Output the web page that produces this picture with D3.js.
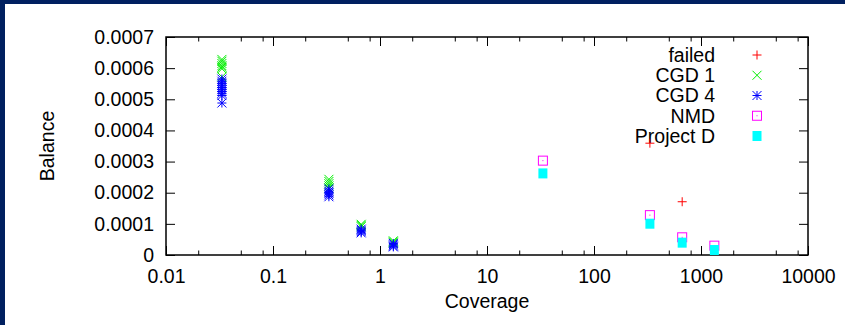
<!DOCTYPE html>
<html><head><meta charset="utf-8">
<script src="https://cdn.jsdelivr.net/npm/d3@7"></script>
<style>
html,body{margin:0;padding:0;background:#fff;}
svg{display:block;}
text{font-family:"Liberation Sans",Arial,Helvetica,sans-serif;fill:#000;}
</style></head>
<body>
<script>
// ---- data ----
const xTickValues = [0.01, 0.1, 1, 10, 100, 1000, 10000];
const xTickLabels = ["0.01", "0.1", "1", "10", "100", "1000", "10000"];
const yTickValues = [0, 0.0001, 0.0002, 0.0003, 0.0004, 0.0005, 0.0006, 0.0007];
const yTickLabels = ["0", "0.0001", "0.0002", "0.0003", "0.0004", "0.0005", "0.0006", "0.0007"];
const seriesNames = ["failed", "CGD 1", "CGD 4", "NMD", "Project D"];

const failedX = [333, 667];
const failedY = [0.000359, 0.000171];

const cgd1X = [0.0333, 0.0333, 0.0333, 0.0333, 0.0333, 0.0333, 0.0333,
               0.333, 0.333, 0.333, 0.333, 0.333,
               0.667, 0.667, 0.667,
               1.333, 1.333, 1.333];
const cgd1Y = [0.000628, 0.000622, 0.000615, 0.000608, 0.000603, 0.000598, 0.000572,
               0.000243, 0.000236, 0.000229, 0.000222, 0.000215,
               0.0000985, 0.000095, 0.000091,
               0.0000455, 0.000042, 0.000039];

const cgd4X = [0.0333, 0.0333, 0.0333, 0.0333, 0.0333, 0.0333, 0.0333, 0.0333, 0.0333, 0.0333,
               0.333, 0.333, 0.333, 0.333, 0.333,
               0.667, 0.667, 0.667, 0.667,
               1.333, 1.333, 1.333, 1.333];
const cgd4Y = [0.000565, 0.000558, 0.000551, 0.000545, 0.000538, 0.000531, 0.000525, 0.000519, 0.000512, 0.000488,
               0.000212, 0.000205, 0.000199, 0.000193, 0.000187,
               0.000083, 0.000079, 0.000075, 0.000071,
               0.000037, 0.000033, 0.000029, 0.000026];

const nmdX = [33.3, 333, 667, 1333];
const nmdY = [0.000303, 0.000128, 0.0000568, 0.000030];

const projDX = [33.3, 333, 667, 1333];
const projDY = [0.000262, 0.0001005, 0.0000396, 0.000016];

// ---- layout ----
const W = 845, H = 325;
const L = 166, R = 808, T = 37, B = 255;
const FS = 19.5;

const svg = d3.select("body").append("svg").attr("width", W).attr("height", H);
svg.append("rect").attr("width", W).attr("height", H).attr("fill", "#002060");
svg.append("rect").attr("x", 5).attr("y", 4).attr("width", W - 5).attr("height", H - 4).attr("fill", "#fff");

const x = d3.scaleLog().domain([0.01, 10000]).range([L, R]);
const y = d3.scaleLinear().domain([0, 0.0007]).range([B, T]);

const minorX = [];
for (let e = -2; e < 4; e++) [2, 5, 8].forEach(m => minorX.push(m * Math.pow(10, e)));

function styleAxis(g) {
  g.select(".domain").remove();
  g.selectAll(".tick line").attr("stroke", "#000").attr("stroke-width", 1);
  g.selectAll("text").attr("font-size", FS).attr("fill", "#000");
}

// bottom major with labels
svg.append("g").attr("transform", `translate(0,${B})`)
  .call(d3.axisBottom(x).tickValues(xTickValues).tickSize(-9).tickPadding(14.5)
    .tickFormat((d, i) => xTickLabels[i]))
  .call(styleAxis);
// bottom minor
svg.append("g").attr("transform", `translate(0,${B})`)
  .call(d3.axisBottom(x).tickValues(minorX).tickSize(-4.5).tickFormat(""))
  .call(styleAxis);
// top major / minor
svg.append("g").attr("transform", `translate(0,${T})`)
  .call(d3.axisTop(x).tickValues(xTickValues).tickSize(-9).tickFormat(""))
  .call(styleAxis);
svg.append("g").attr("transform", `translate(0,${T})`)
  .call(d3.axisTop(x).tickValues(minorX).tickSize(-4.5).tickFormat(""))
  .call(styleAxis);
// left
svg.append("g").attr("transform", `translate(${L},0)`)
  .call(d3.axisLeft(y).tickValues(yTickValues).tickSize(-9).tickPadding(12)
    .tickFormat((d, i) => yTickLabels[i]))
  .call(styleAxis);
// right
svg.append("g").attr("transform", `translate(${R},0)`)
  .call(d3.axisRight(y).tickValues(yTickValues).tickSize(-9).tickFormat(""))
  .call(styleAxis);

// frame
svg.append("rect").attr("x", L).attr("y", T).attr("width", R - L).attr("height", B - T)
  .attr("fill", "none").attr("stroke", "#000").attr("stroke-width", 1.5);

// axis titles
svg.append("text").attr("x", (L + R) / 2).attr("y", 308).attr("text-anchor", "middle")
  .attr("font-size", FS).text("Coverage");
svg.append("text").attr("transform", `translate(54,${(T + B) / 2}) rotate(-90)`)
  .attr("text-anchor", "middle").attr("font-size", FS).text("Balance");

// ---- marker drawers ----
const s = 4.5;
const markers = {
  plus: (g, c) => g.append("path").attr("d", `M${-s},0H${s}M0,${-s}V${s}`).attr("stroke", c).attr("fill", "none"),
  cross: (g, c) => g.append("path").attr("d", `M${-s},${-s}L${s},${s}M${-s},${s}L${s},${-s}`).attr("stroke", c).attr("fill", "none"),
  star: (g, c) => g.append("path").attr("d", `M${-s},0H${s}M0,${-s}V${s}M${-s},${-s}L${s},${s}M${-s},${s}L${s},${-s}`).attr("stroke", c).attr("fill", "none"),
  dotbox: (g, c) => { g.append("rect").attr("x", -s).attr("y", -s).attr("width", 2 * s).attr("height", 2 * s).attr("stroke", c).attr("fill", "none");
                      g.append("rect").attr("x", -0.5).attr("y", -0.5).attr("width", 1).attr("height", 1).attr("fill", c); },
  fbox: (g, c) => g.append("rect").attr("x", -s).attr("y", -s - 0.5).attr("width", 2 * s).attr("height", 2 * s + 1).attr("fill", c)
};

const series = [
  { name: seriesNames[0], xs: failedX, ys: failedY, m: "plus", c: "#ff0000" },
  { name: seriesNames[1], xs: cgd1X, ys: cgd1Y, m: "cross", c: "#00ee00" },
  { name: seriesNames[2], xs: cgd4X, ys: cgd4Y, m: "star", c: "#0000ff" },
  { name: seriesNames[3], xs: nmdX, ys: nmdY, m: "dotbox", c: "#ff00ff" },
  { name: seriesNames[4], xs: projDX, ys: projDY, m: "fbox", c: "#00ffff" }
];

// legend (drawn first so data marks sit on top)
const leg = svg.append("g");
series.forEach((sr, i) => {
  const yy = 55 + i * 20.25;
  leg.append("text").attr("x", 715).attr("y", yy).attr("dy", "0.35em").attr("text-anchor", "end")
    .attr("font-size", FS).text(sr.name);
  const g = leg.append("g").attr("transform", `translate(757,${yy})`);
  markers[sr.m](g, sr.c);
});

const plot = svg.append("g");
series.forEach(sr => {
  sr.xs.forEach((xv, i) => {
    const g = plot.append("g").attr("transform", `translate(${x(xv)},${y(sr.ys[i])})`);
    markers[sr.m](g, sr.c);
  });
});
</script>
</body></html>
